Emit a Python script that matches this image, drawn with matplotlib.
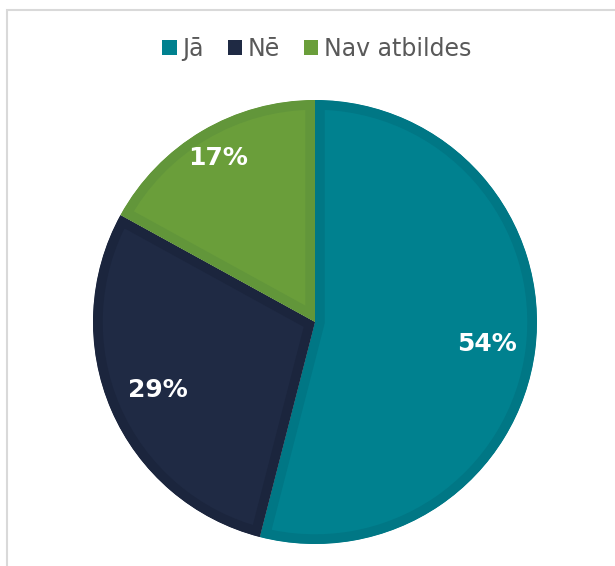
import numpy as np
import matplotlib.pyplot as plt
from matplotlib.patches import Patch, Rectangle, Wedge

labels = ['Jā', 'Nē', 'Nav atbildes']
values = [54, 29, 17]
colors = ['#00818F', '#1F2A44', '#6A9E3A']
edge_colors = ['#007785', '#1B253D', '#62963A']
label_dist = [0.78, 0.77, 0.86]


def main():
    fig = plt.figure(figsize=(6.15, 5.66), dpi=100)

    # light frame round the chart area
    fig.patches.append(Rectangle((7 / 615, -0.1), 1.2, 1 - 10 / 566 + 0.1,
                                 transform=fig.transFigure, fill=False,
                                 edgecolor='#D9D9D9', linewidth=1.5))

    ax = fig.add_axes([93 / 615, 22 / 566, 444 / 615, 444 / 566])
    wedges, texts, autotexts = ax.pie(values, colors=colors, startangle=90, counterclock=False,
                                      autopct='%1.0f%%', pctdistance=0.77,
                                      textprops={'color': 'white', 'fontsize': 18, 'fontweight': 'bold'})
    # inner border on each slice (stroke clipped to the slice)
    for w, ec, t, d in zip(wedges, edge_colors, autotexts, label_dist):
        w.set_edgecolor(ec)
        w.set_linewidth(14)
        clip = Wedge(w.center, w.r, w.theta1, w.theta2, transform=ax.transData)
        w.set_clip_on(True)
        w.set_clip_path(clip)
        mid = np.deg2rad((w.theta1 + w.theta2) / 2)
        t.set_position((d * np.cos(mid), d * np.sin(mid)))
    ax.set_xlim(-1, 1)
    ax.set_ylim(-1, 1)
    ax.set_aspect('equal')
    ax.axis('off')

    handles = [Patch(facecolor=c, edgecolor='none') for c in colors]
    fig.legend(handles, labels, loc='upper center', bbox_to_anchor=(0.515, 0.972), ncol=3,
               frameon=False, fontsize=17, handlelength=0.6, handleheight=0.6,
               handletextpad=0.25, columnspacing=1.0, labelcolor='#595959')

    plt.savefig('out.png', dpi=100)


if __name__ == '__main__':
    main()
